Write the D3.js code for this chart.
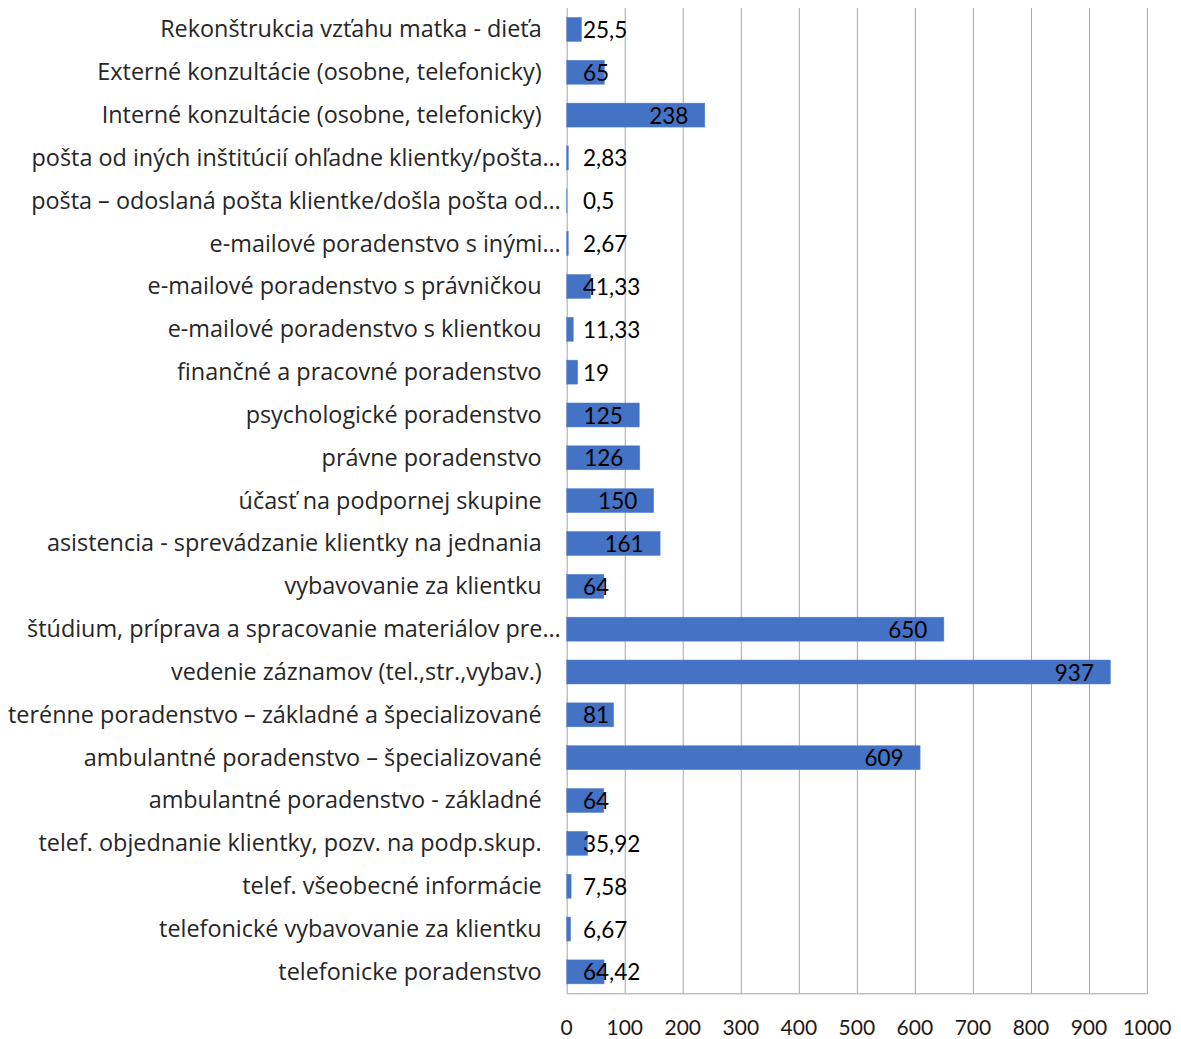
<!DOCTYPE html>
<html>
<head>
<meta charset="utf-8">
<script src="https://cdn.jsdelivr.net/npm/d3@7"></script>
<style>
  body { margin: 0; background: #fff; }
  svg { display: block; font-family: Lato, 'Open Sans', sans-serif; }
  .grid line { stroke: #a6a6a6; stroke-width: 1; }
  .bar { fill: #4472c4; stroke: #5b85d0; stroke-width: 0.5; }
  .cat { font-family: 'Open Sans', sans-serif; }
</style>
</head>
<body>
<div id="chart"></div>
<script>
const width = 1181
const height = 1039

const categories = [
    'Rekonštrukcia vzťahu matka - dieťa',
    'Externé konzultácie (osobne, telefonicky)',
    'Interné konzultácie (osobne, telefonicky)',
    'pošta od iných inštitúcií ohľadne klientky/pošta…',
    'pošta – odoslaná pošta klientke/došla pošta od…',
    'e-mailové poradenstvo s inými…',
    'e-mailové poradenstvo s právničkou',
    'e-mailové poradenstvo s klientkou',
    'finančné a pracovné poradenstvo',
    'psychologické poradenstvo',
    'právne poradenstvo',
    'účasť na podpornej skupine',
    'asistencia - sprevádzanie klientky na jednania',
    'vybavovanie za klientku',
    'štúdium, príprava a spracovanie materiálov pre…',
    'vedenie záznamov (tel.,str.,vybav.)',
    'terénne poradenstvo – základné a špecializované',
    'ambulantné poradenstvo – špecializované',
    'ambulantné poradenstvo - základné',
    'telef. objednanie klientky, pozv. na podp.skup.',
    'telef. všeobecné informácie',
    'telefonické vybavovanie za klientku',
    'telefonicke poradenstvo'
]

const values = [25.5, 65, 238, 2.83, 0.5, 2.67, 41.33, 11.33, 19, 125, 126, 150, 161, 64, 650, 937, 81, 609, 64, 35.92, 7.58, 6.67, 64.42]

const xTicks = [0, 100, 200, 300, 400, 500, 600, 700, 800, 900, 1000]

const margin = {top: 8, right: 34, bottom: 45.7, left: 566.7}

const data = categories.map((c, i) => ({name: c, value: values[i]}))

const x = d3.scaleLinear()
    .domain([0, 1000])
    .range([margin.left, width - margin.right])

const y = d3.scaleBand()
    .domain(categories)
    .range([margin.top, height - margin.bottom])
    .paddingInner(0.44)
    .paddingOuter(0.22)

const svg = d3.select('#chart')
    .append('svg')
    .attr('width', width)
    .attr('height', height)

// gridlines
svg.append('g')
    .attr('class', 'grid')
    .selectAll('line')
    .data(xTicks)
    .enter()
    .append('line')
    .attr('x1', d => x(d) + 0.5)
    .attr('x2', d => x(d) + 0.5)
    .attr('y1', margin.top)
    .attr('y2', height - margin.bottom)

svg.append('line')
    .attr('x1', x(0))
    .attr('x2', x(1000) + 1)
    .attr('y1', height - margin.bottom + 0.5)
    .attr('y2', height - margin.bottom + 0.5)
    .attr('stroke', '#a6a6a6')

// tick labels
svg.append('g')
    .selectAll('text')
    .data(xTicks)
    .enter()
    .append('text')
    .attr('x', d => x(d))
    .attr('y', 1035)
    .attr('text-anchor', 'middle')
    .attr('font-size', 21)
    .attr('fill', '#1a1a1a')
    .text(d => d)

// category labels (truncated ones stick out a bit further, like in excel)
svg.append('g')
    .selectAll('text')
    .data(categories)
    .enter()
    .append('text')
    .attr('class', 'cat')
    .attr('x', d => d.endsWith('…') ? margin.left - 6 : margin.left - 25)
    .attr('y', d => y(d) + y.bandwidth() / 2)
    .attr('dy', '0.34em')
    .attr('text-anchor', 'end')
    .attr('font-size', 23.4)
    .attr('fill', '#262626')
    .text(d => d)

// bars
svg.append('g')
    .selectAll('rect')
    .data(data)
    .enter()
    .append('rect')
    .attr('class', 'bar')
    .attr('x', x(0))
    .attr('y', d => y(d.name))
    .attr('width', d => x(d.value) - x(0))
    .attr('height', y.bandwidth())

// data labels
const fmt = v => String(v).replace('.', ',')

svg.append('g')
    .selectAll('text')
    .data(data)
    .enter()
    .append('text')
    .attr('y', d => y(d.name) + y.bandwidth() / 2)
    .attr('dy', '0.38em')
    .attr('font-size', 22.5)
    .attr('fill', '#000')
    .text(d => fmt(d.value))
    .each(function (d) {
        const w = this.getComputedTextLength()
        const xs = Math.max(583, x(d.value) - 16.5 - w)
        d3.select(this).attr('x', xs)
    })
</script>
</body>
</html>
